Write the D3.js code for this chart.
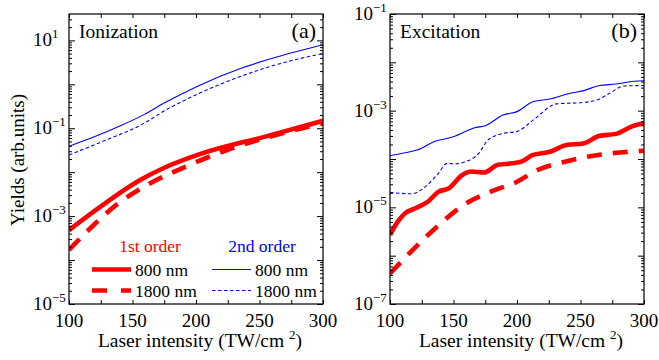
<!DOCTYPE html>
<html>
<head>
<meta charset="utf-8">
<script src="https://cdn.jsdelivr.net/npm/d3@7"></script>
<style>
  body { margin: 0; background: #fff; }
</style>
</head>
<body>
<svg id="chart" width="659" height="360" font-family="Liberation Serif, Tinos, Times New Roman, Times, serif"></svg>
<script>
// x axis
const xTicks = [100, 150, 200, 250, 300];
const xMinor = [125, 175, 225, 275];

// (a) Ionization
const ionX_1st800  = [100, 124, 156, 175, 203, 256, 300];
const ionY_1st800  = [4.79e-4, 1.58e-3, 6.61e-3, 1.26e-2, 2.57e-2, 6.61e-2, 0.148];
const ionX_1st1800 = [100, 117, 137, 161, 193, 224, 256, 300];
const ionY_1st1800 = [1.70e-4, 5.37e-4, 1.78e-3, 5.01e-3, 1.38e-2, 3.16e-2, 6.17e-2, 0.129];
const ionX_2nd800  = [100, 117, 140, 159, 176, 203, 235, 266, 300];
const ionY_2nd800  = [0.0389, 0.0589, 0.112, 0.204, 0.389, 0.955, 2.29, 4.37, 7.94];
const ionX_2nd1800 = [100, 124, 159, 176, 203, 235, 266, 300];
const ionY_2nd1800 = [0.0245, 0.0468, 0.129, 0.257, 0.631, 1.51, 2.95, 5.01];
const ionYTicks = [1e-5, 1e-3, 1e-1, 1e1];

// (b) Excitation
const excX_1st800  = [100, 106, 112, 120, 130, 138, 146, 157, 164, 174, 185, 196, 204, 212, 226, 239, 252, 265, 278, 291, 300];
const excY_1st800  = [2.69e-6, 5.01e-6, 7.59e-6, 9.55e-6, 1.32e-5, 2.09e-5, 2.45e-5, 4.68e-5, 5.50e-5, 5.25e-5, 7.59e-5,
                      8.13e-5, 8.91e-5, 1.20e-4, 1.41e-4, 1.95e-4, 2.09e-4, 3.02e-4, 3.31e-4, 4.79e-4, 5.50e-4];
const excX_1st1800 = [100, 118, 137, 158, 179, 200, 216, 237, 263, 300];
const excY_1st1800 = [4.27e-7, 1.32e-6, 3.98e-6, 1.12e-5, 2.09e-5, 3.39e-5, 5.89e-5, 8.71e-5, 1.20e-4, 1.48e-4];
const excX_2nd800  = [100, 112, 122, 135, 150, 166, 176, 189, 200, 213, 226, 242, 252, 265, 278, 292, 300];
const excY_2nd800  = [1.17e-4, 1.35e-4, 1.55e-4, 2.29e-4, 2.88e-4, 4.37e-4, 5.01e-4, 8.13e-4, 9.55e-4,
                      1.55e-3, 1.74e-3, 2.29e-3, 2.57e-3, 3.31e-3, 3.55e-3, 4.07e-3, 4.17e-3];
const excX_2nd1800 = [100, 117, 128, 138, 145, 151, 159, 170, 177, 189, 200, 213, 231, 252, 263, 273, 284, 300];
const excY_2nd1800 = [2.04e-5, 1.91e-5, 2.69e-5, 5.01e-5, 8.13e-5, 7.94e-5, 8.71e-5, 1.32e-4, 2.45e-4, 3.39e-4,
                      3.72e-4, 6.46e-4, 1.38e-3, 1.48e-3, 1.66e-3, 2.29e-3, 3.24e-3, 3.31e-3];
const excYTicks = [1e-7, 1e-5, 1e-3, 1e-1];

const RED = '#ff0000', BLUE = '#0000ff';
const styles = {
    s1_800 : {color: RED,  width: 4.6, dash: null},
    s1_1800: {color: RED,  width: 4.6, dash: '15,11'},
    s2_800 : {color: BLUE, width: 1.1, dash: null},
    s2_1800: {color: BLUE, width: 1.1, dash: '3.5,2.5'}
};

const svg = d3.select('#chart');
const x = d3.scaleLinear().domain([100, 300]);

function drawPanel(opt) {
    const xs = x.copy().range([opt.left, opt.right]);
    const ys = d3.scaleLog().domain(opt.yDomain).range([opt.bottom, opt.top]);
    const g = svg.append('g');

    g.append('clipPath').attr('id', opt.id + '-clip')
        .append('rect')
        .attr('x', opt.left).attr('y', opt.top)
        .attr('width', opt.right - opt.left).attr('height', opt.bottom - opt.top);

    const line = d3.line().x(d => xs(d[0])).y(d => ys(d[1])).curve(d3.curveMonotoneX);
    const plot = g.append('g').attr('clip-path', `url(#${opt.id}-clip)`);
    opt.series.forEach(s => {
        const st = styles[s.style];
        plot.append('path')
            .datum(d3.zip(s.x, s.y))
            .attr('d', line)
            .attr('fill', 'none')
            .attr('stroke', st.color)
            .attr('stroke-width', st.width)
            .attr('stroke-dasharray', st.dash)
            .attr('stroke-linejoin', 'round');
    });

    // log ticks
    const lo = Math.floor(Math.log10(opt.yDomain[0])), hi = Math.ceil(Math.log10(opt.yDomain[1]));
    const majorY = d3.range(lo, hi + 1).map(e => Math.pow(10, e)).filter(v => v >= opt.yDomain[0] * 0.999 && v <= opt.yDomain[1]);
    const minorY = [];
    d3.range(lo, hi).forEach(e => d3.range(2, 10).forEach(k => {
        const v = k * Math.pow(10, e);
        if (v > opt.yDomain[0] && v < opt.yDomain[1]) minorY.push(v);
    }));

    const axes = [
        [d3.axisLeft(ys).tickValues(majorY), `translate(${opt.left},0)`, 6],
        [d3.axisLeft(ys).tickValues(minorY), `translate(${opt.left},0)`, 3],
        [d3.axisRight(ys).tickValues(majorY), `translate(${opt.right},0)`, 6],
        [d3.axisRight(ys).tickValues(minorY), `translate(${opt.right},0)`, 3],
        [d3.axisBottom(xs).tickValues(xTicks.concat(xMinor)), `translate(0,${opt.bottom})`, 4],
        [d3.axisTop(xs).tickValues(xTicks.concat(xMinor)), `translate(0,${opt.top})`, 4]
    ];
    axes.forEach(([ax, tr, len]) => {
        const a = g.append('g').attr('transform', tr)
            .call(ax.tickSizeInner(-len).tickSizeOuter(0).tickFormat(''));
        a.select('.domain').remove();
        a.selectAll('line').attr('stroke', '#000').attr('stroke-width', 1);
    });

    g.append('rect')
        .attr('x', opt.left).attr('y', opt.top)
        .attr('width', opt.right - opt.left).attr('height', opt.bottom - opt.top)
        .attr('fill', 'none').attr('stroke', '#000').attr('stroke-width', 1.2);

    // y tick labels
    opt.yLabels.forEach(v => {
        const t = g.append('text')
            .attr('x', opt.left - opt.labelOffset)
            .attr('y', ys(v) + 6)
            .attr('font-size', 19);
        t.append('tspan').text('10');
        t.append('tspan').attr('font-size', 13).attr('dy', -8).text(d3.format('d')(Math.log10(v)));
    });

    // x tick labels
    xTicks.forEach(v => {
        g.append('text')
            .attr('x', xs(v)).attr('y', opt.bottom + 23)
            .attr('text-anchor', 'middle').attr('font-size', 19)
            .text(v);
    });

    const xt = g.append('text')
        .attr('x', (opt.left + opt.right) / 2 + 4).attr('y', opt.bottom + 43)
        .attr('text-anchor', 'middle').attr('font-size', 19.5);
    xt.append('tspan').text('Laser intensity (TW/cm ');
    xt.append('tspan').attr('font-size', 13).attr('dy', -8).text('2');
    xt.append('tspan').attr('dy', 8).text(')');

    g.append('text').attr('x', opt.left + 10).attr('y', opt.top + 24)
        .attr('font-size', 19.5).text(opt.title);
    g.append('text').attr('x', opt.right - 7).attr('y', opt.top + 24)
        .attr('text-anchor', 'end').attr('font-size', 22).text(opt.tag);

    return {xs, ys, g};
}

drawPanel({
    id: 'pa', left: 69, right: 323, top: 14, bottom: 304,
    yDomain: [1e-5, Math.pow(10, 1.6)], yLabels: ionYTicks, labelOffset: 36,
    title: 'Ionization', tag: '(a)',
    series: [
        {x: ionX_2nd800,  y: ionY_2nd800,  style: 's2_800'},
        {x: ionX_2nd1800, y: ionY_2nd1800, style: 's2_1800'},
        {x: ionX_1st1800, y: ionY_1st1800, style: 's1_1800'},
        {x: ionX_1st800,  y: ionY_1st800,  style: 's1_800'}
    ]
});

drawPanel({
    id: 'pb', left: 390, right: 644, top: 14, bottom: 304,
    yDomain: [1e-7, 1e-1], yLabels: excYTicks, labelOffset: 36,
    title: 'Excitation', tag: '(b)',
    series: [
        {x: excX_2nd800,  y: excY_2nd800,  style: 's2_800'},
        {x: excX_2nd1800, y: excY_2nd1800, style: 's2_1800'},
        {x: excX_1st1800, y: excY_1st1800, style: 's1_1800'},
        {x: excX_1st800,  y: excY_1st800,  style: 's1_800'}
    ]
});

// y title
svg.append('text')
    .attr('transform', 'translate(24,160) rotate(-90)')
    .attr('text-anchor', 'middle').attr('font-size', 19)
    .text('Yields (arb.units)');

// legend in panel (a)
const legendGroups = [
    {title: '1st order', color: RED,  cx: 150, x0: 92,  items: [['s1_800', '800 nm'], ['s1_1800', '1800 nm']]},
    {title: '2nd order', color: BLUE, cx: 262, x0: 212, items: [['s2_800', '800 nm'], ['s2_1800', '1800 nm']]}
];
const leg = svg.append('g');
legendGroups.forEach(lg => {
    leg.append('text').attr('x', lg.cx).attr('y', 252)
        .attr('text-anchor', 'middle').attr('font-size', 17.5)
        .attr('fill', lg.color).text(lg.title);
    lg.items.forEach(([key, label], i) => {
        const st = styles[key];
        const yy = 269.5 + i * 21;
        leg.append('line')
            .attr('x1', lg.x0).attr('x2', lg.x0 + 39).attr('y1', yy).attr('y2', yy)
            .attr('stroke', st.color).attr('stroke-width', st.width)
            .attr('stroke-dasharray', key === 's1_1800' ? '15,14' : st.dash);
        leg.append('text').attr('x', lg.x0 + 43).attr('y', yy + 6)
            .attr('font-size', 17.5).text(label);
    });
});
</script>
</body>
</html>
